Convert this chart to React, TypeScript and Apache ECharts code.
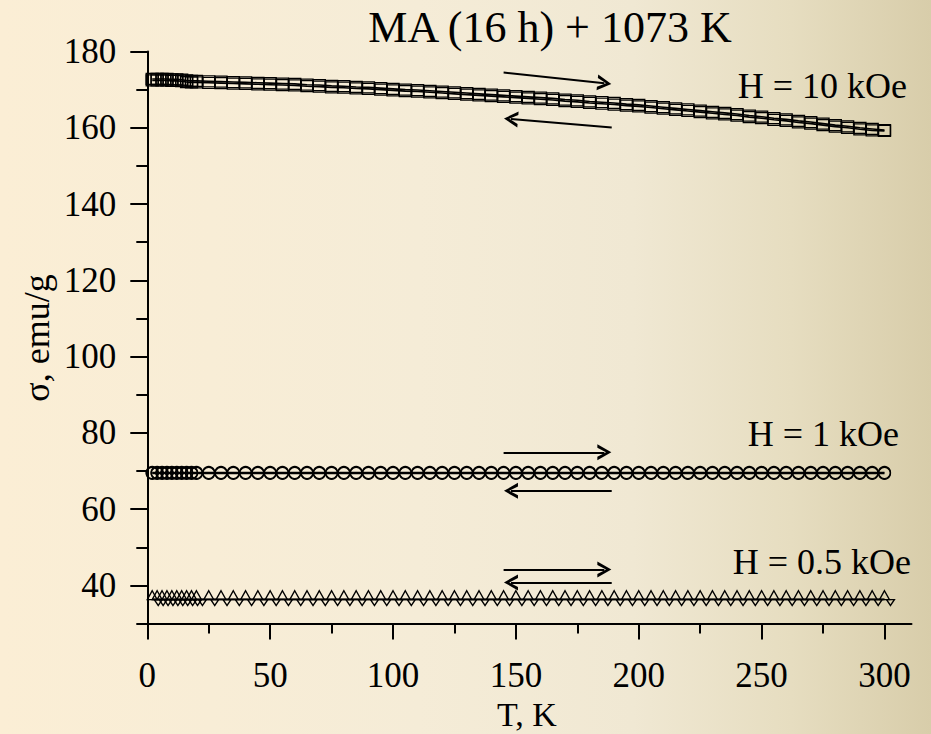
import React, { useEffect, useRef } from "react";
import * as echarts from "echarts";

const T = [2, 4, 6, 8, 10, 12, 14, 16, 18, 20, 25, 30, 35, 40, 45, 50, 55, 60, 65, 70, 75, 80, 85, 90, 95, 100, 105, 110, 115, 120, 125, 130, 135, 140, 145, 150, 155, 160, 165, 170, 175, 180, 185, 190, 195, 200, 205, 210, 215, 220, 225, 230, 235, 240, 245, 250, 255, 260, 265, 270, 275, 280, 285, 290, 295, 300];

const H10warm = [172.8, 172.8, 172.8, 172.8, 172.7, 172.7, 172.6, 172.4, 172.3, 172.3, 172.2, 172.1, 172.0, 171.9, 171.8, 171.7, 171.6, 171.5, 171.3, 171.2, 171.0, 170.9, 170.7, 170.6, 170.4, 170.2, 170.0, 169.9, 169.7, 169.5, 169.3, 169.1, 168.9, 168.7, 168.5, 168.3, 168.1, 167.9, 167.7, 167.4, 167.2, 166.9, 166.7, 166.5, 166.2, 166.0, 165.7, 165.4, 165.1, 164.8, 164.5, 164.2, 163.9, 163.6, 163.2, 162.9, 162.5, 162.2, 161.8, 161.5, 161.1, 160.7, 160.4, 160.0, 159.7, 159.4];
const H10cool = [172.4, 172.4, 172.4, 172.4, 172.3, 172.3, 172.2, 172.0, 171.9, 171.9, 171.8, 171.7, 171.6, 171.5, 171.4, 171.3, 171.2, 171.1, 170.9, 170.8, 170.6, 170.5, 170.3, 170.2, 170.0, 169.8, 169.6, 169.5, 169.3, 169.1, 168.9, 168.7, 168.5, 168.3, 168.1, 167.9, 167.7, 167.5, 167.3, 167.0, 166.8, 166.5, 166.3, 166.1, 165.8, 165.6, 165.3, 165.0, 164.7, 164.4, 164.1, 163.8, 163.5, 163.2, 162.8, 162.5, 162.1, 161.8, 161.4, 161.1, 160.7, 160.3, 160.0, 159.6, 159.3, 159.2];
const H1warm = [69.6, 69.6, 69.6, 69.6, 69.6, 69.6, 69.6, 69.6, 69.6, 69.6, 69.6, 69.6, 69.6, 69.6, 69.6, 69.6, 69.6, 69.6, 69.6, 69.6, 69.6, 69.6, 69.6, 69.6, 69.6, 69.6, 69.6, 69.6, 69.6, 69.6, 69.6, 69.6, 69.6, 69.6, 69.6, 69.6, 69.6, 69.6, 69.6, 69.6, 69.6, 69.6, 69.6, 69.6, 69.6, 69.6, 69.6, 69.6, 69.6, 69.6, 69.6, 69.6, 69.6, 69.6, 69.6, 69.6, 69.6, 69.6, 69.6, 69.6, 69.6, 69.6, 69.6, 69.6, 69.6, 69.6];
const H1cool = [69.4, 69.4, 69.4, 69.4, 69.4, 69.4, 69.4, 69.4, 69.4, 69.4, 69.4, 69.4, 69.4, 69.4, 69.4, 69.4, 69.4, 69.4, 69.4, 69.4, 69.4, 69.4, 69.4, 69.4, 69.4, 69.4, 69.4, 69.4, 69.4, 69.4, 69.4, 69.4, 69.4, 69.4, 69.4, 69.4, 69.4, 69.4, 69.4, 69.4, 69.4, 69.4, 69.4, 69.4, 69.4, 69.4, 69.4, 69.4, 69.4, 69.4, 69.4, 69.4, 69.4, 69.4, 69.4, 69.4, 69.4, 69.4, 69.4, 69.4, 69.4, 69.4, 69.4, 69.4, 69.4, 69.4];
const H05warm = [36.4, 36.4, 36.4, 36.4, 36.4, 36.4, 36.4, 36.4, 36.4, 36.4, 36.4, 36.4, 36.4, 36.4, 36.4, 36.4, 36.4, 36.4, 36.4, 36.4, 36.4, 36.4, 36.4, 36.4, 36.4, 36.4, 36.4, 36.4, 36.4, 36.4, 36.4, 36.4, 36.4, 36.4, 36.4, 36.4, 36.4, 36.4, 36.4, 36.4, 36.4, 36.4, 36.4, 36.4, 36.4, 36.4, 36.4, 36.4, 36.4, 36.4, 36.4, 36.4, 36.4, 36.4, 36.4, 36.4, 36.4, 36.4, 36.4, 36.4, 36.4, 36.4, 36.4, 36.4, 36.4, 36.4];
const H05cool = [36.3, 36.3, 36.3, 36.3, 36.3, 36.3, 36.3, 36.3, 36.3, 36.3, 36.3, 36.3, 36.3, 36.3, 36.3, 36.3, 36.3, 36.3, 36.3, 36.3, 36.3, 36.3, 36.3, 36.3, 36.3, 36.3, 36.3, 36.3, 36.3, 36.3, 36.3, 36.3, 36.3, 36.3, 36.3, 36.3, 36.3, 36.3, 36.3, 36.3, 36.3, 36.3, 36.3, 36.3, 36.3, 36.3, 36.3, 36.3, 36.3, 36.3, 36.3, 36.3, 36.3, 36.3, 36.3, 36.3, 36.3, 36.3, 36.3, 36.3, 36.3, 36.3, 36.3, 36.3, 36.3, 36.3];

const xMajor = [0, 50, 100, 150, 200, 250, 300];
const xMinor = [25, 75, 125, 175, 225, 275];
const yMajor = [40, 60, 80, 100, 120, 140, 160, 180];
const yMinor = [30, 50, 70, 90, 110, 130, 150, 170];

// arrows: [fromT, fromSigma, toT, toSigma]
const arrows = [
  [145, 174.5, 186, 171.7],
  [189, 160.1, 148, 162.3],
  [145, 74.9, 186, 74.9],
  [189, 64.8, 148, 64.8],
  [145, 44.2, 186, 44.2],
  [189, 40.8, 148, 40.8],
];

const title = "MA (16 h) + 1073 K";
const xName = "T, K";
const yName = "σ, emu/g";
const fieldLabels = ["H = 10 kOe", "H = 1 kOe", "H = 0.5 kOe"];

const FONT = "'Liberation Serif', 'Times New Roman', serif";
const CHEVRON = "path://M5,0 L10,10 L7.8,10 L5,3.8 L2.2,10 L0,10 Z";
const TRI_UP = "path://M5,0 L10,9 L0,9 Z";
const TRI_DOWN = "path://M0,0 L10,0 L5,9 Z";

export default function App() {
  const ref = useRef<HTMLDivElement>(null);
  useEffect(() => {
    if (!ref.current) return;
    const chart = echarts.init(ref.current, null, { renderer: "svg" });
    const pts = (vals: number[]) => T.map((t, i) => [t, vals[i]]);
    const base = (vals: number[], symbol: string, size: any, extra: any = {}) => ({
      type: "line",
      data: pts(vals),
      symbol,
      symbolSize: size,
      showAllSymbol: true,
      silent: true,
      lineStyle: { color: "#000", width: 1.6 },
      itemStyle: { color: "rgba(0,0,0,0)", borderColor: "#000", borderWidth: 1.3 },
      z: 3,
      ...extra,
    });
    const axisText = { fontFamily: FONT, fontSize: 35, color: "#000" };
    chart.setOption({
      animation: false,
      backgroundColor: new echarts.graphic.LinearGradient(0, 0, 1, 0, [
        { offset: 0, color: "#fbeed5" },
        { offset: 0.45, color: "#f5ecd7" },
        { offset: 0.68, color: "#f0e8d3" },
        { offset: 0.85, color: "#e6ddc0" },
        { offset: 1, color: "#d8cdaa" },
      ]),
      grid: { left: 147.3, top: 51.5, right: 19.5, bottom: 110.4, containLabel: false },
      xAxis: [
        {
          type: "value", min: 0, max: 311, position: "bottom",
          axisLine: { show: true, onZero: false, lineStyle: { color: "#000", width: 2 } },
          axisTick: { show: true, length: 16, customValues: xMajor, lineStyle: { color: "#000", width: 2 } },
          axisLabel: { customValues: xMajor, margin: 34, ...axisText },
          splitLine: { show: false },
        },
        {
          type: "value", min: 0, max: 311, position: "bottom",
          axisLine: { show: false, onZero: false },
          axisTick: { show: true, length: 10, customValues: xMinor, lineStyle: { color: "#000", width: 2 } },
          axisLabel: { show: false },
          splitLine: { show: false },
        },
      ],
      yAxis: [
        {
          type: "value", min: 30, max: 180, position: "left",
          axisLine: { show: true, onZero: false, lineStyle: { color: "#000", width: 2 } },
          axisTick: { show: true, length: 17, customValues: yMajor, lineStyle: { color: "#000", width: 2 } },
          axisLabel: { customValues: yMajor, margin: 31, ...axisText },
          splitLine: { show: false },
        },
        {
          type: "value", min: 30, max: 180, position: "left",
          axisLine: { show: false, onZero: false },
          axisTick: { show: true, length: 11, customValues: yMinor, lineStyle: { color: "#000", width: 2 } },
          axisLabel: { show: false },
          splitLine: { show: false },
        },
      ],
      series: [
        base(H10warm, "rect", [12, 11], {
          markLine: {
            silent: true,
            symbol: ["none", CHEVRON],
            symbolSize: [16, 14],
            label: { show: false },
            lineStyle: { color: "#000", width: 2, type: "solid" },
            data: arrows.map((a) => [{ coord: [a[0], a[1]] }, { coord: [a[2], a[3]] }]),
          },
        }),
        base(H10cool, "rect", [12, 11]),
        base(H1warm, "circle", 12),
        base(H1cool, "circle", 12),
        base(H05warm, TRI_UP, [10, 9], { symbolOffset: [0, -4] }),
        base(H05cool, TRI_DOWN, [8, 6], { symbolOffset: [6, 3] }),
      ],
      graphic: [
        { type: "text", x: 550, y: 27, style: { text: title, font: `44px ${FONT}`, fill: "#000", textAlign: "center", textVerticalAlign: "middle" } },
        { type: "text", x: 527, y: 714, style: { text: xName, font: `34px ${FONT}`, fill: "#000", textAlign: "center", textVerticalAlign: "middle" } },
        { type: "text", x: 37, y: 338, rotation: Math.PI / 2, style: { text: yName, font: `36px ${FONT}`, fill: "#000", textAlign: "center", textVerticalAlign: "middle" } },
        { type: "text", x: 907, y: 86, style: { text: fieldLabels[0], font: `36px ${FONT}`, fill: "#000", textAlign: "right", textVerticalAlign: "middle" } },
        { type: "text", x: 899, y: 434, style: { text: fieldLabels[1], font: `36px ${FONT}`, fill: "#000", textAlign: "right", textVerticalAlign: "middle" } },
        { type: "text", x: 911, y: 562, style: { text: fieldLabels[2], font: `36px ${FONT}`, fill: "#000", textAlign: "right", textVerticalAlign: "middle" } },
      ],
    });
    return () => chart.dispose();
  }, []);
  return <div ref={ref} style={{ position: "absolute", left: 0, top: 0, width: 931, height: 734 }} />;
}
